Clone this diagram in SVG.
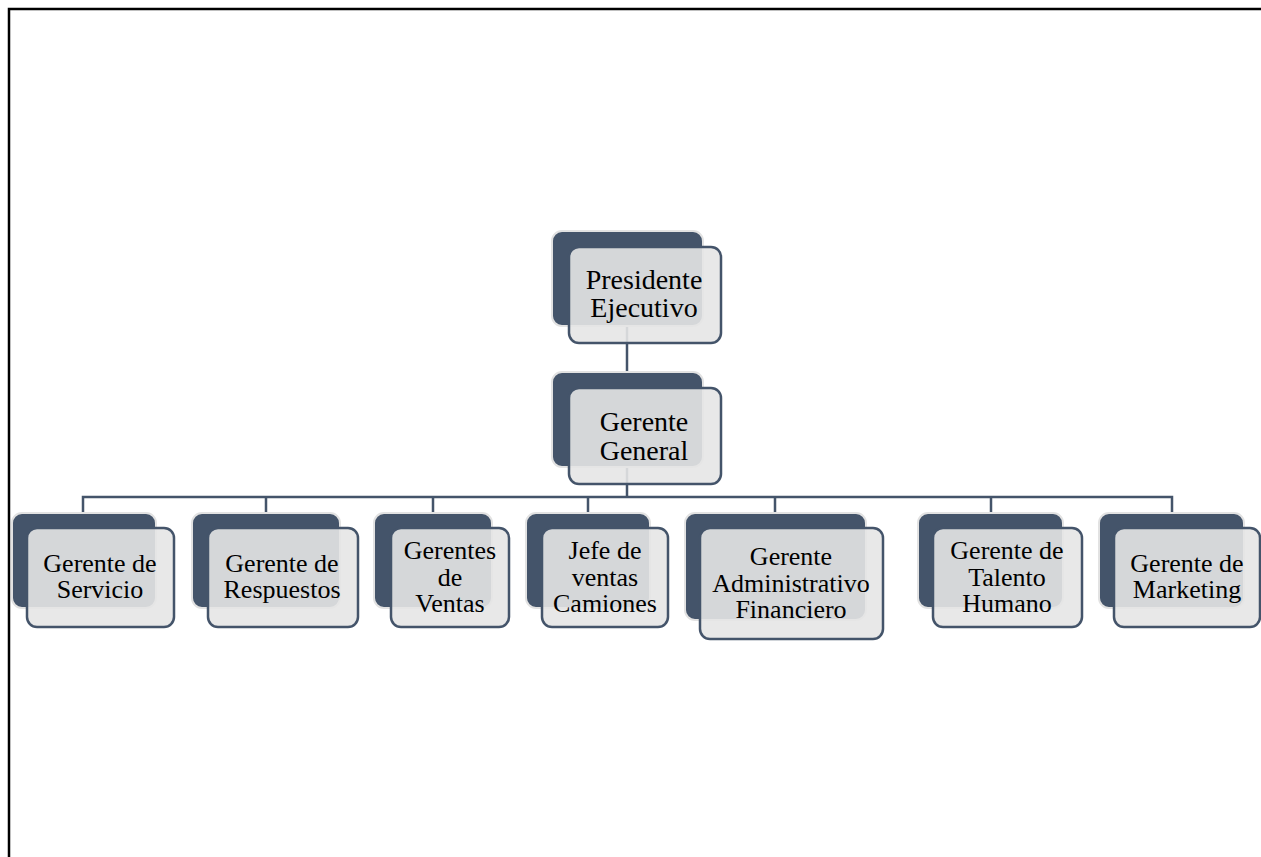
<svg xmlns="http://www.w3.org/2000/svg" width="1261" height="857" viewBox="0 0 1261 857">
<style>
.back{fill:#44546A;stroke:#e2e2e2;stroke-width:2}
.front{fill:#e5e5e5;fill-opacity:0.9;stroke:#44546A;stroke-width:2.5}
.conn{fill:none;stroke:#44546A;stroke-width:2.5}
text{font-family:"Liberation Serif","Times New Roman",serif;font-size:26px;fill:#000;text-anchor:middle}
.big{font-size:28px}
</style>
<rect width="1261" height="857" fill="#fff"/>
<g id="border" fill="none" stroke="#000" stroke-width="2.5">
<path d="M9,857 V9 H1261"/>
</g>
<g id="connectors">
<path class="conn" d="M627,325 V373"/>
<path class="conn" d="M627,467 V497"/>
<path class="conn" d="M83,513 V497 H1172 V513"/>
<path class="conn" d="M266,497 V513 M433,497 V513 M588,497 V513 M775,497 V513 M991,497 V513"/>
</g>
<g id="presidente">
<rect class="back" x="552" y="231" width="151" height="95" rx="10"/>
<rect class="front" x="569" y="247" width="152" height="96" rx="10"/>
<text class="big" x="644" y="289">Presidente<tspan x="644" dy="28">Ejecutivo</tspan></text>
</g>
<g id="gerente-general">
<rect class="back" x="552" y="372" width="151" height="95" rx="10"/>
<rect class="front" x="569" y="388" width="152" height="96" rx="10"/>
<text class="big" x="644" y="431">Gerente<tspan x="644" dy="29">General</tspan></text>
</g>
<g id="servicio">
<rect class="back" x="12" y="513" width="144" height="95" rx="10"/>
<rect class="front" x="27" y="528" width="147" height="99" rx="10"/>
<text x="100" y="572">Gerente de<tspan x="100" dy="26">Servicio</tspan></text>
</g>
<g id="respuestos">
<rect class="back" x="192" y="513" width="148" height="95" rx="10"/>
<rect class="front" x="208" y="528" width="150" height="99" rx="10"/>
<text x="282" y="572">Gerente de<tspan x="282" dy="26">Respuestos</tspan></text>
</g>
<g id="ventas">
<rect class="back" x="374" y="513" width="118" height="95" rx="10"/>
<rect class="front" x="391" y="528" width="118" height="99" rx="10"/>
<text x="450" y="559">Gerentes<tspan x="450" dy="27">de</tspan><tspan x="450" dy="26">Ventas</tspan></text>
</g>
<g id="camiones">
<rect class="back" x="526" y="513" width="124" height="95" rx="10"/>
<rect class="front" x="542" y="528" width="126" height="99" rx="10"/>
<text x="605" y="559">Jefe de<tspan x="605" dy="27">ventas</tspan><tspan x="605" dy="26">Camiones</tspan></text>
</g>
<g id="financiero">
<rect class="back" x="685" y="513" width="181" height="107" rx="10"/>
<rect class="front" x="700" y="528" width="183" height="111" rx="10"/>
<text x="791" y="565">Gerente<tspan x="791" dy="27">Administrativo</tspan><tspan x="791" dy="26">Financiero</tspan></text>
</g>
<g id="talento">
<rect class="back" x="918" y="513" width="145" height="95" rx="10"/>
<rect class="front" x="933" y="528" width="149" height="99" rx="10"/>
<text x="1007" y="559">Gerente de<tspan x="1007" dy="27">Talento</tspan><tspan x="1007" dy="26">Humano</tspan></text>
</g>
<g id="marketing">
<rect class="back" x="1099" y="513" width="145" height="95" rx="10"/>
<rect class="front" x="1114" y="528" width="146" height="99" rx="10"/>
<text x="1187" y="572">Gerente de<tspan x="1187" dy="26">Marketing</tspan></text>
</g>
</svg>
